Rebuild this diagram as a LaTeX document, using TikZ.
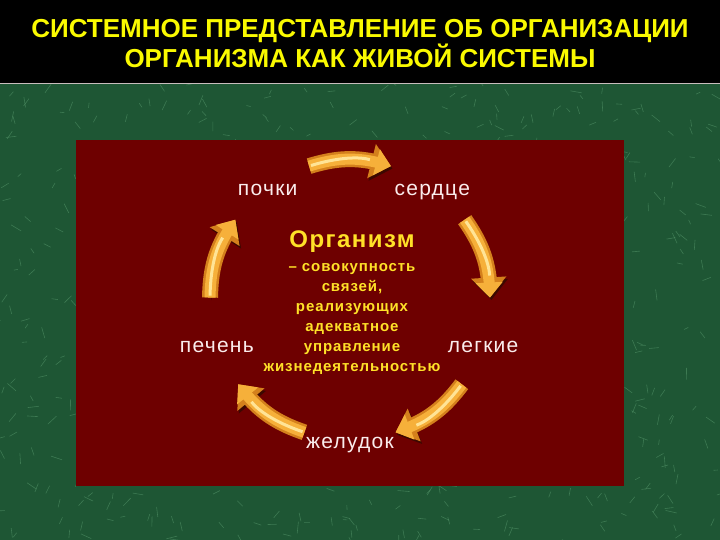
\documentclass[tikz,border=0pt]{standalone}
\usepackage{fontspec}
\setmainfont{Liberation Sans}
\newfontfamily\razfont[LetterSpace=6]{Liberation Sans}
\usetikzlibrary{arrows.meta,bending}

\definecolor{marble}{RGB}{30,86,52}
\definecolor{marblevein}{RGB}{120,190,140}
\definecolor{bordo}{RGB}{110,0,0}
\definecolor{titleyellow}{RGB}{250,250,0}
\definecolor{orgyellow}{RGB}{255,225,40}
\definecolor{labelwhite}{RGB}{250,236,236}
\definecolor{arrowedge}{RGB}{212,128,28}
\definecolor{arrowfill}{RGB}{246,176,58}
\definecolor{arrowlight}{RGB}{255,228,150}
\definecolor{arrowshadow}{RGB}{60,8,0}

\tikzset{
  organ/.style={text=labelwhite, font=\razfont\fontsize{21}{24}\selectfont,
    text height=1.6ex, text depth=.5ex, yshift=-6pt},
  flow/.style={draw=arrowedge, line width=16pt,
    -{Triangle[width=34pt,length=20pt]},
    preaction={draw=arrowshadow, transform canvas={shift={(1.5pt,-2.5pt)}}},
    postaction={draw=arrowfill, line width=11pt, -{Triangle[width=26pt,length=15pt]}},
    postaction={draw=arrowlight, line width=3pt, -, shorten >=22pt, shorten <=2pt}},
  vein/.style={draw=marblevein, line width=0.6pt, opacity=0.35},
}

\begin{document}
\begin{tikzpicture}[x=1pt,y=1pt]
  \useasboundingbox (0,0) rectangle (720,540);
  % background
  \fill[marble] (0,0) rectangle (720,540);
  \pgfmathsetseed{11}
  \foreach \i in {1,...,700}{
    \pgfmathsetmacro{\vx}{720*rnd}
    \pgfmathsetmacro{\vy}{457*rnd}
    \draw[vein] (\vx,\vy) -- ++(360*rnd:4+8*rnd);
  }
  \fill[black] (0,457) rectangle (720,540);
  \draw[line width=1.5pt, color=black!20!labelwhite] (0,456.5) -- (720,456.5);
  \fill[bordo] (76,54) rectangle (624,400);

  \node[text=titleyellow, align=center,
    font=\bfseries\fontsize{26}{27}\selectfont] (zagolovok) at (360,496.5)
    {СИСТЕМНОЕ ПРЕДСТАВЛЕНИЕ ОБ ОРГАНИЗАЦИИ\\ОРГАНИЗМА КАК ЖИВОЙ СИСТЕМЫ};

  \node[text=orgyellow, font=\razfont\bfseries\fontsize{24}{26}\selectfont]
    (organizm) at (352,298) {Организм};
  \node[text=orgyellow, align=center,
    font=\razfont\bfseries\fontsize{15}{20}\selectfont] (opisanie) at (352,221)
    {– совокупность\\связей,\\реализующих\\адекватное\\управление\\жизнедеятельностью};

  \begin{scope}[shift={(350,240)}]
    \draw
      (126:140) node[organ] (pochki){почки}
      (54:140) node[organ] (serdce){сердце}
      (-18:140) node[organ] (legkie){легкие}
      (-90:140) node[organ] (zheludok){желудок}
      (198:140) node[organ] (pechen){печень};
    \path
      (107:140) coordinate (a1) (73:140) coordinate (b1)
      (35:140) coordinate (a2) (1:140) coordinate (b2)
      (-37:140) coordinate (a3) (-71:140) coordinate (b3)
      (-109:140) coordinate (a4) (-143:140) coordinate (b4)
      (179:140) coordinate (a5) (145:140) coordinate (b5);
    % clockwise arrows
    \draw[flow] (a1) to[bend left=17] (b1);
    \draw[flow] (a2) to[bend left=17] (b2);
    \draw[flow] (a3) to[bend left=17] (b3);
    \draw[flow] (a4) to[bend left=17] (b4);
    \draw[flow] (a5) to[bend left=17] (b5);
  \end{scope}
\end{tikzpicture}
\end{document}
